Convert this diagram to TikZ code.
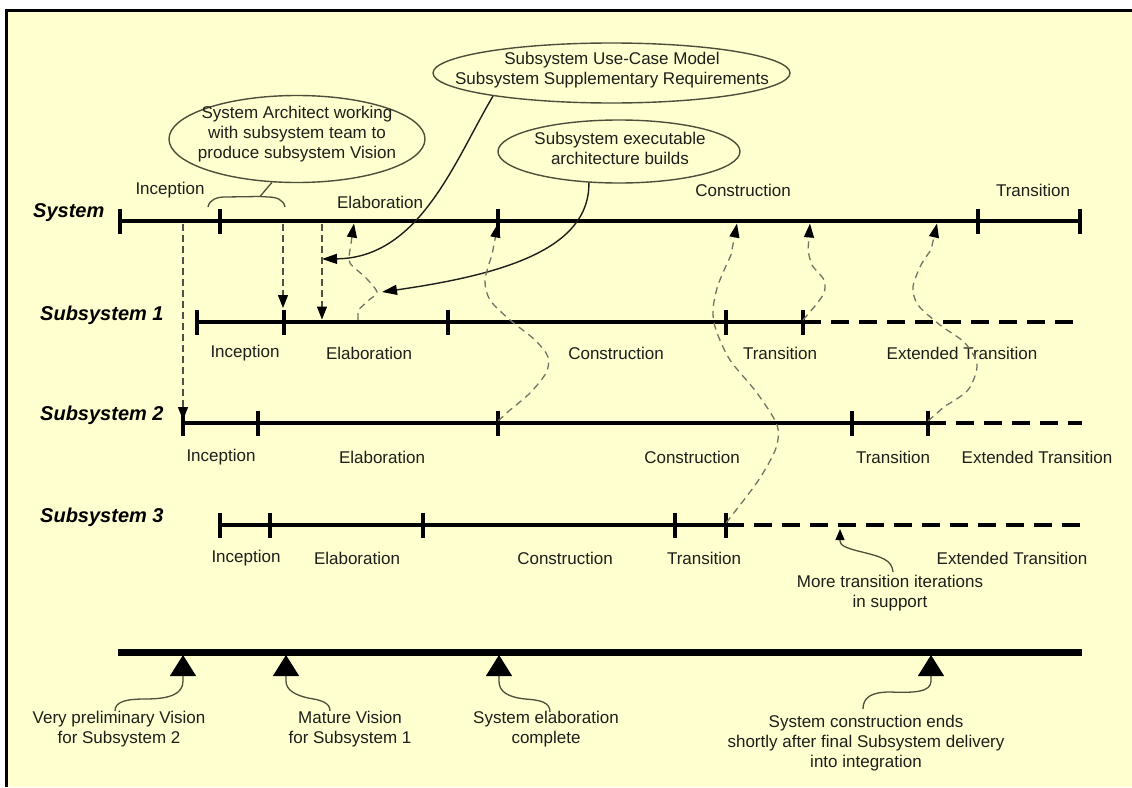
\documentclass[tikz,border=0pt]{standalone}
\usepackage{fontspec}
\setmainfont{Liberation Sans}
\usetikzlibrary{arrows.meta,shapes.geometric}
\definecolor{bgyellow}{RGB}{255,255,208}
\definecolor{ink}{RGB}{30,30,26}
\definecolor{olive}{RGB}{78,78,58}
\definecolor{dashink}{RGB}{80,80,74}
\definecolor{fbink}{RGB}{115,115,102}
\begin{document}
\begin{tikzpicture}[x=1pt,y=-1pt,
  phaseline/.style={line width=4.5pt,black},
  extline/.style={line width=4.5pt,black,dash pattern=on 18pt off 10pt},
  tickmark/.style={line width=3.5pt,black},
  lbl/.style={font=\fontsize{17}{20}\selectfont,text=ink,inner sep=0pt},
  sysname/.style={font=\fontsize{20}{24}\selectfont\bfseries\itshape,text=black,anchor=west,inner sep=0pt},
  bubble/.style={ellipse,draw=olive,line width=1.4pt,inner sep=0pt},
  bubbletext/.style={font=\fontsize{17}{20}\selectfont,text=ink,align=center,inner sep=0pt},
  notetext/.style={font=\fontsize{17}{20}\selectfont,text=ink,align=center,inner sep=0pt},
  handoff/.style={draw=dashink,line width=1.3pt,dash pattern=on 7pt off 4pt,-{Triangle[length=13pt,width=10pt,color=black,fill=black]}},
  feedback/.style={draw=fbink,line width=1.3pt,dash pattern=on 7pt off 5pt,-{Triangle[length=14pt,width=10pt,color=black,fill=black]}},
  calllink/.style={draw=ink,line width=1.4pt,-{Triangle[length=15pt,width=10pt,color=black,fill=black]}},
  squiggle/.style={draw=olive,line width=1.3pt},
  bigtip/.style={-{Triangle[length=21pt,width=26pt,color=black,fill=black]}},
  smalltipup/.style={-{Triangle[length=11pt,width=9pt,color=black,fill=black]}},
]
\useasboundingbox (0,0) rectangle (1132,787);
\fill[white] (0,0) rectangle (1132,787);
\fill[bgyellow] (7,10) rectangle (1132,787);
\draw[line width=3pt] (6.5,787) -- (6.5,10.5) -- (1132,10.5);

% ---------- System ----------
\node[sysname] (sysname) at (33,213) {System};
\draw[phaseline] (120,221) -- (1080,221);
\foreach \x in {120,220,498,978,1080} \draw[tickmark] (\x,208.5) -- (\x,233.5);
\node[lbl] (sysInc) at (170,190) {Inception};
\node[lbl] (sysEla) at (380,202) {Elaboration};
\node[lbl] (sysCon) at (743,190) {Construction};
\node[lbl] (sysTra) at (1033,190) {Transition};

% ---------- Subsystem 1 ----------
\node[sysname] (ssonename) at (40,315) {Subsystem 1};
\draw[phaseline] (197,322) -- (803,322);
\draw[extline] (803,322) -- (1082,322);
\foreach \x in {197,284,448,726,803} \draw[tickmark] (\x,309.5) -- (\x,334.5);
\node[lbl] (s1Inc) at (245,353) {Inception};
\node[lbl] (s1Ela) at (369,353) {Elaboration};
\node[lbl] (s1Con) at (616,353) {Construction};
\node[lbl] (s1Tra) at (780,353) {Transition};
\node[lbl] (s1Ext) at (962,353) {Extended Transition};

% ---------- Subsystem 2 ----------
\node[sysname] (sstwoname) at (40,415) {Subsystem 2};
\draw[phaseline] (183,423) -- (928,423);
\draw[extline] (928,423) -- (1082,423);
\foreach \x in {183,258,498,852,928} \draw[tickmark] (\x,410.5) -- (\x,435.5);
\node[lbl] (s2Inc) at (221,457) {Inception};
\node[lbl] (s2Ela) at (382,457) {Elaboration};
\node[lbl] (s2Con) at (692,457) {Construction};
\node[lbl] (s2Tra) at (893,457) {Transition};
\node[lbl] (s2Ext) at (1037,457) {Extended Transition};

% ---------- Subsystem 3 ----------
\node[sysname] (ssthreename) at (40,517) {Subsystem 3};
\draw[phaseline] (220,525) -- (726,525);
\draw[extline] (726,525) -- (1082,525);
\foreach \x in {220,270,423,675,726} \draw[tickmark] (\x,512.5) -- (\x,537.5);
\node[lbl] (s3Inc) at (246,558) {Inception};
\node[lbl] (s3Ela) at (357,558) {Elaboration};
\node[lbl] (s3Con) at (565,558) {Construction};
\node[lbl] (s3Tra) at (704,558) {Transition};
\node[lbl] (s3Ext) at (1012,558) {Extended Transition};

% ---------- bubbles ----------
\node[bubble,minimum width=256pt,minimum height=87pt] (arch) at (297,139) {};
\node[bubbletext] (archtext) at (297,134) {System Architect working\\with subsystem team to\\produce subsystem Vision};
\node[bubble,minimum width=357pt,minimum height=60pt] (ucm) at (611.5,73) {};
\node[bubbletext] (ucmtext) at (612,70) {Subsystem Use-Case Model\\Subsystem Supplementary Requirements};
\node[bubble,minimum width=242pt,minimum height=63pt] (exe) at (619,151.5) {};
\node[bubbletext] (exetext) at (620,148) {Subsystem executable\\architecture builds};

% brace under the architect bubble
\coordinate (braceL) at (208,207);
\coordinate (braceR) at (285,207);
\coordinate (braceM) at (260,196.5);
\draw[squiggle] (braceL) to[out=80,in=180] (225,197) -- (braceM) -- (268,197) to[out=0,in=100] (braceR);
\draw[squiggle] (braceM) -- (arch.240);

% ---------- callout links ----------
\coordinate (callA) at (322,259);
\coordinate (callB) at (382,292);
\draw[calllink] (ucm.191) .. controls (455,160) and (420,258) .. (callA);
\draw[calllink] (exe.226) .. controls (590,250) and (500,275) .. (callB);

% ---------- hand-off (straight dashed) ----------
\coordinate (sysP1) at (183,224);
\coordinate (sysP2) at (283,224);
\coordinate (sysP3) at (322,224);
\coordinate (ssTwoStart) at (183,420);
\coordinate (ssOneInc) at (283,308);
\coordinate (ssOneEla) at (322,319.5);
\draw[handoff] (sysP1) -- (ssTwoStart);
\draw[handoff] (sysP2) -- (ssOneInc);
\draw[handoff] (sysP3) -- (ssOneEla);

% ---------- feedback (curved dashed) ----------
\coordinate (sysArrA) at (354,223.5);
\coordinate (sysArrB) at (498,223.5);
\coordinate (sysArrC) at (737,223.5);
\coordinate (sysArrD) at (810,223.5);
\coordinate (sysArrE) at (937,223.5);
\coordinate (ssOneFb) at (358,320);
\coordinate (ssTwoCon) at (498,421);
\coordinate (ssThreeTra) at (726,523);
\coordinate (ssOneTra) at (803,320);
\coordinate (ssTwoTra) at (928,421);
\draw[feedback] (ssOneFb) -- plot[smooth] coordinates {(358,310) (369,300) (377,292) (366,278) (350,263) (350,250)} -- (sysArrA);
\draw[feedback] (ssTwoCon) -- plot[smooth] coordinates {(510,410) (530,393) (546,373) (548,357) (535,340) (510,320) (490,300) (485,280) (492,255)} -- (sysArrB);
\draw[feedback] (ssThreeTra) -- plot[smooth] coordinates {(740,505) (760,478) (776,448) (777,425) (757,393) (730,360) (716,330) (713,310) (718,285) (731,255)} -- (sysArrC);
\draw[feedback] (ssOneTra) -- plot[smooth] coordinates {(815,306) (824,293) (824,280) (812,265) (808,250)} -- (sysArrD);
\draw[feedback] (ssTwoTra) -- plot[smooth] coordinates {(945,406) (968,390) (977,365) (965,343) (940,325) (918,305) (913,287) (921,265) (931,250)} -- (sysArrE);

% ---------- more transition iterations ----------
\node[notetext] (moretr) at (890,593) {More transition iterations\\in support};
\coordinate (moreStart) at (893,572);
\coordinate (moreTip) at (840,529);
\draw[squiggle,smalltipup] (moreStart) .. controls (892,560) and (882,557) .. (862,552) .. controls (845,548) and (840,545) .. (840,541) -- (moreTip);

% ---------- milestone bar ----------
\draw[line width=7pt] (118,652) -- (1082,652);
\coordinate (mileA) at (183,655);
\coordinate (mileB) at (286,655);
\coordinate (mileC) at (499,655);
\coordinate (mileD) at (931,655);
\node[notetext] (vpre) at (119,729) {Very preliminary Vision\\for Subsystem 2};
\node[notetext] (mature) at (350,729) {Mature Vision\\for Subsystem 1};
\node[notetext] (selab) at (546,729) {System elaboration\\complete};
\node[notetext] (scons) at (866,743) {System construction ends\\shortly after final Subsystem delivery\\into integration};
\coordinate (sqA) at (115,711);
\coordinate (sqB) at (330,711);
\coordinate (sqC) at (550,712);
\coordinate (sqD) at (863,709);
\draw[squiggle,bigtip] (sqA) .. controls (115,702) and (125,699) .. (145,699) .. controls (170,699) and (183,694) .. (183,681) -- (mileA);
\draw[squiggle,bigtip] (sqB) .. controls (330,702) and (320,700) .. (308,698) .. controls (295,695) and (286,690) .. (286,681) -- (mileB);
\draw[squiggle,bigtip] (sqC) .. controls (550,702) and (540,700) .. (525,699) .. controls (508,697) and (499,692) .. (499,681) -- (mileC);
\draw[squiggle,bigtip] (sqD) .. controls (863,697) and (872,692) .. (890,692) .. controls (915,693) and (931,692) .. (931,681) -- (mileD);
\end{tikzpicture}
\end{document}
